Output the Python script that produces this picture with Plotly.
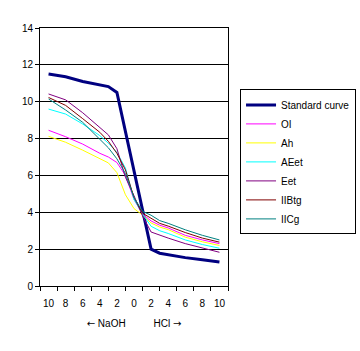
import plotly.graph_objects as go

# positions along the category axis (0 = NaOH 10 ... 5 = 0 ... 10 = HCl 10)
x_pos = [0, 1, 2, 3, 3.5, 4, 4.5, 5, 5.5, 6, 6.5, 7, 8, 9, 10]
tick_pos = [0, 1, 2, 3, 4, 5, 6, 7, 8, 9, 10]
tick_labels = ["10", "8", "6", "4", "2", "0", "2", "4", "6", "8", "10"]

standard = [11.5, 11.35, 11.1, 10.92, 10.82, 10.5, 8.4, 6.3, 4.1, 2.0, 1.78, 1.69, 1.54, 1.42, 1.3]
oi = [8.45, 8.1, 7.7, 7.2, 7.0, 6.7, 6.0, 4.7, 3.9, 3.53, 3.3, 3.15, 2.75, 2.5, 2.3]
ah = [8.12, 7.8, 7.37, 6.9, 6.68, 6.15, 4.95, 4.2, 3.85, 3.42, 3.2, 3.06, 2.65, 2.4, 2.2]
aeet = [9.6, 9.33, 8.79, 8.16, 7.75, 7.25, 6.4, 4.7, 3.9, 3.24, 3.0, 2.85, 2.5, 2.25, 2.05]
eet = [10.42, 10.1, 9.4, 8.61, 8.2, 7.45, 5.9, 4.9, 3.8, 2.93, 2.75, 2.6, 2.3, 2.05, 1.83]
iibtg = [10.23, 9.8, 9.08, 8.34, 7.85, 7.2, 6.3, 4.8, 3.95, 3.66, 3.4, 3.25, 2.9, 2.6, 2.38]
iicg = [10.15, 9.55, 8.88, 7.98, 7.5, 6.9, 6.1, 4.8, 4.05, 3.84, 3.55, 3.4, 3.05, 2.75, 2.5]

series = [
    ("Standard curve", standard, "#000080", 3),
    ("OI", oi, "#FF00FF", 1),
    ("Ah", ah, "#FFFF00", 1),
    ("AEet", aeet, "#00FFFF", 1),
    ("Eet", eet, "#800080", 1),
    ("IIBtg", iibtg, "#800000", 1),
    ("IICg", iicg, "#008080", 1),
]

fig = go.Figure()
for i, (name, ys, color, w) in enumerate(series):
    fig.add_trace(go.Scatter(x=x_pos, y=ys, mode="lines", name=name,
                             legendgroup=f"g{i}",
                             line=dict(color=color, width=w)))

font = dict(family="Liberation Sans, Arial, sans-serif", size=10, color="black")
arrow = '<span style="font-family:DejaVu Sans">{}</span>'

fig.update_layout(
    width=360, height=351,
    margin=dict(l=40, r=132, t=28, b=65, autoexpand=False),
    paper_bgcolor="white", plot_bgcolor="white",
    font=font,
    showlegend=True,
    legend=dict(x=1.064, y=0.762, xanchor="left", yanchor="top",
                bgcolor="white", bordercolor="black", borderwidth=1,
                font=font, tracegroupgap=0, itemwidth=30),
    xaxis=dict(range=[-0.5, 10.5], tickmode="array", tickvals=tick_pos,
               ticktext=tick_labels, ticks="outside", ticklen=8,
               tickcolor="rgba(0,0,0,0)", showgrid=False, zeroline=False,
               showline=True, linecolor="black", linewidth=1, mirror=True,
               tickfont=font,
               minor=dict(ticks="outside", tick0=-0.5, dtick=1, ticklen=4,
                          tickcolor="black", tickwidth=1, showgrid=False),
               title=dict(text=arrow.format("\u2190") + " NaOH" + "\u00a0" * 10
                          + "HCl " + arrow.format("\u2192"),
                          font=font, standoff=11)),
    yaxis=dict(range=[0, 14], dtick=2, ticks="outside", ticklen=4,
               tickcolor="black", showgrid=True, gridcolor="black",
               gridwidth=1, zeroline=False, showline=True, linecolor="black",
               linewidth=1, mirror=True, tickfont=font),
)

fig.write_html("out.html")
